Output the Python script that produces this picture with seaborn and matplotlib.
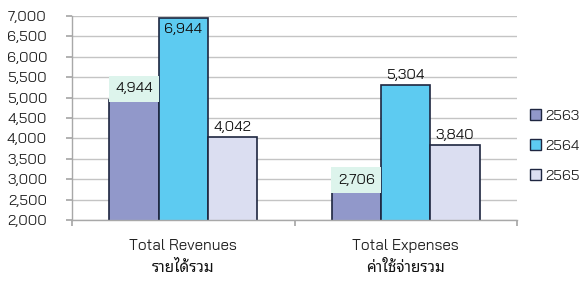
import matplotlib
matplotlib.use("Agg")
import matplotlib.pyplot as plt
import seaborn as sns
import pandas as pd

# ---- data ----
categories_en = ["Total Revenues", "Total Expenses"]
categories_th = ["รายได้รวม", "ค่าใช้จ่ายรวม"]
years = ["2563", "2564", "2565"]
revenues = [4944, 6944, 4042]
expenses = [2706, 5304, 3840]
y_ticks = [2000, 2500, 3000, 3500, 4000, 4500, 5000, 5500, 6000, 6500, 7000]

colors = ["#9198CA", "#5DCBF1", "#DBDEF1"]
edge = "#1E2640"
num_font = ["Bai Jamjuree", "DejaVu Sans"]
thai_font = ["Noto Sans Thai Looped", "Noto Sans Thai", "DejaVu Sans"]

df = pd.DataFrame({
    "cat": [categories_en[0]] * 3 + [categories_en[1]] * 3,
    "year": years * 2,
    "value": revenues + expenses,
})

sns.set_theme(style="white")
plt.rcParams["font.family"] = num_font

fig = plt.figure(figsize=(5.84, 2.82), dpi=100)
ax = fig.add_axes([72 / 584, 1 - 220 / 282, (517 - 72) / 584, (220 - 16) / 282])

sns.barplot(data=df, x="cat", y="value", hue="year", hue_order=years,
            palette=colors, width=0.665, edgecolor=edge, linewidth=1.2,
            saturation=1, ax=ax, legend=True)

ax.set_ylim(2000, 7000)
ax.set_xlim(-0.5, 1.5)
ax.set_yticks(y_ticks)
ax.set_yticklabels([f"{v:,}" for v in y_ticks], fontsize=10.5, color="#222222")
ax.yaxis.grid(True, color="#C4C4C4", linewidth=1)
ax.set_axisbelow(True)
for s in ["top", "right"]:
    ax.spines[s].set_visible(False)
for s in ["left", "bottom"]:
    ax.spines[s].set_color("#A8A8A8")
    ax.spines[s].set_linewidth(1)
ax.tick_params(axis="y", left=True, length=4, color="#A8A8A8", pad=14)
ax.set_ylabel("")
ax.set_xlabel("")

# category boundaries as ticks, names as minor ticks
ax.set_xticks([-0.5, 0.5, 1.5])
ax.set_xticklabels(["", "", ""])
ax.tick_params(axis="x", bottom=True, length=4, color="#A8A8A8")
ax.set_xticks([0, 1], minor=True)
ax.set_xticklabels(categories_en, minor=True, fontsize=11, color="#222222")
ax.tick_params(axis="x", which="minor", length=0, pad=14)
for i, th in enumerate(categories_th):
    ax.annotate(th, xy=(i, 0), xycoords=("data", "axes fraction"),
                xytext=(0, -48), textcoords="offset pixels",
                ha="center", va="center", fontsize=11, fontweight="bold",
                family=thai_font, color="#111111")

# value labels
boxed = {(0, 0), (1, 0)}
for j, cont in enumerate(ax.containers):
    for i, bar in enumerate(cont):
        h = bar.get_height()
        x = bar.get_x() + bar.get_width() / 2
        txt = f"{int(h):,}"
        if h > 6500:
            ax.annotate(txt, xy=(x, h), xytext=(0, -5), textcoords="offset pixels",
                        ha="center", va="top", fontsize=10.5, color="#111111")
        elif (i, j) in boxed:
            ax.annotate(txt, xy=(x, h), xytext=(0, 11), textcoords="offset pixels",
                        ha="center", va="center", fontsize=10.5, color="#111111",
                        bbox=dict(boxstyle="square,pad=0.45", fc="#DDF4EC", ec="none"))
        else:
            ax.annotate(txt, xy=(x, h), xytext=(0, 3), textcoords="offset pixels",
                        ha="center", va="bottom", fontsize=10.5, color="#111111")

leg = ax.legend(loc="center left", bbox_to_anchor=(530 / 584, 1 - 146 / 282),
                bbox_transform=fig.transFigure, frameon=False, fontsize=10.5,
                handlelength=0.75, handleheight=0.75, handletextpad=0.3,
                labelspacing=1.15, borderpad=0, borderaxespad=0, title=None)
for h in leg.legend_handles:
    h.set_edgecolor(edge)
    h.set_linewidth(1)

fig.savefig("out.png", dpi=100)
